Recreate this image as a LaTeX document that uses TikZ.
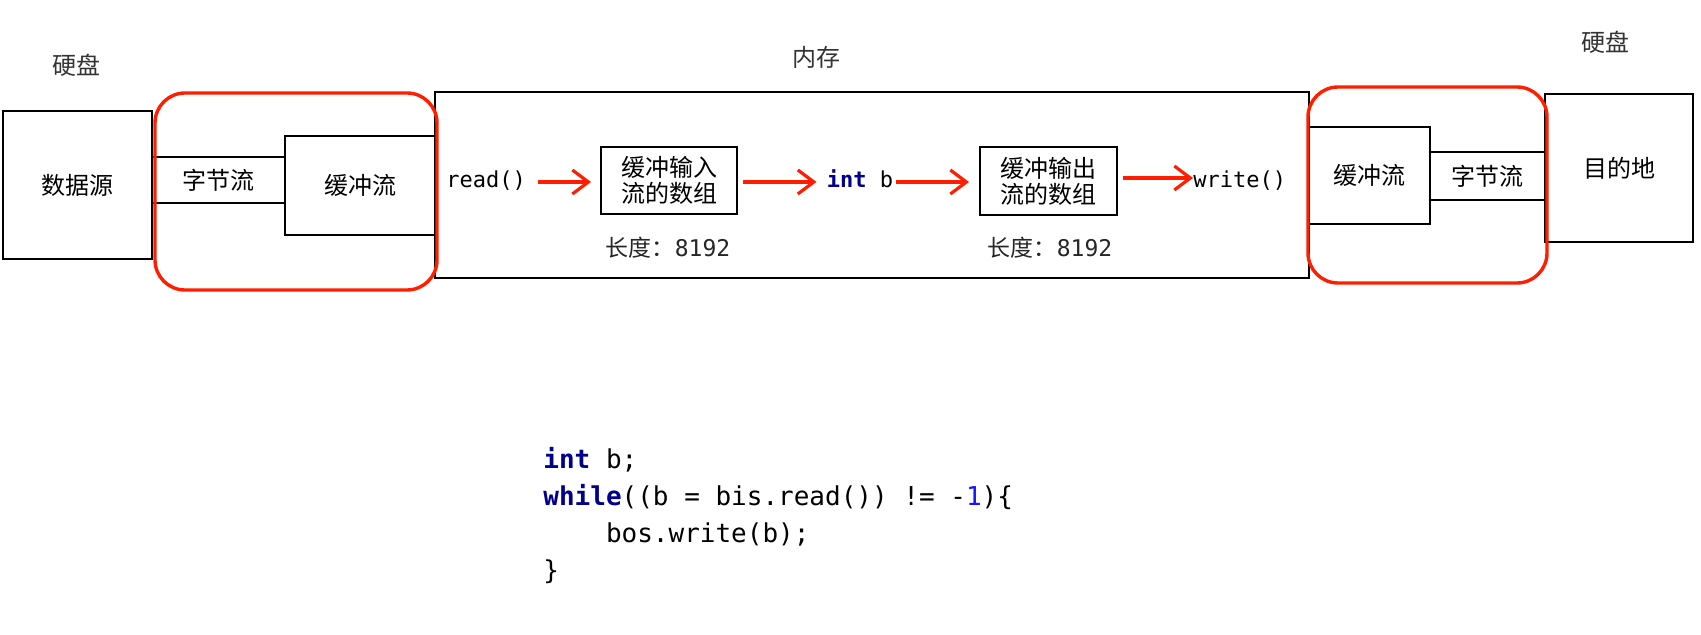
\documentclass[tikz,border=0pt]{standalone}
\usepackage{fontspec}
\setmonofont{DejaVu Sans Mono}
\newfontfamily\cjk{Noto Sans CJK SC}
\usetikzlibrary{arrows.meta}
\definecolor{flowred}{RGB}{255,30,0}
\definecolor{kwblue}{RGB}{0,0,140}
\definecolor{numblue}{RGB}{20,20,255}
\tikzset{
  box/.style={draw, line width=1pt, inner sep=0pt, font=\cjk\fontsize{12}{14}\selectfont},
  grp/.style={draw=flowred, line width=1.7pt, rounded corners=15pt},
  flow/.style={draw=flowred, line width=1.6pt,
    -{Straight Barb[length=8pt,width=12pt,line width=1.6pt]}},
  lbl/.style={inner sep=0pt, text=black!80, font=\cjk\fontsize{12}{14}\selectfont},
  fn/.style={inner sep=0pt, text height=8pt, text depth=2.5pt,
    font=\ttfamily\fontsize{11}{13}\selectfont},
  len/.style={inner sep=0pt, text=black!85, font=\cjk\fontsize{11.5}{13}\selectfont},
  codeln/.style={inner sep=0pt, anchor=base west, font=\ttfamily\fontsize{13}{15}\selectfont}
}
\newcommand{\kw}[1]{\textcolor{kwblue}{\bfseries #1}}

\begin{document}
\begin{tikzpicture}[x=0.5pt, y=-0.5pt]
  \useasboundingbox (0,0) rectangle (1701,635);
  % place labels
  \node[lbl] (hdL) at (76,65) {硬盘};
  \node[lbl] (ram) at (816,57) {内存};
  \node[lbl] (hdR) at (1605,42) {硬盘};
  % memory frame
  \node[box, minimum width=437pt, minimum height=93pt] (mem) at (872,185) {};
  % read side
  \node[box, minimum width=74.5pt, minimum height=74pt] (src) at (77.5,185) {数据源};
  \node[box, minimum width=66.5pt, minimum height=23pt] (byteL) at (218.5,180) {字节流};
  \node[box, minimum width=75pt, minimum height=49.5pt] (bufL) at (360,185.5) {缓冲流};
  % write side
  \node[box, minimum width=60.5pt, minimum height=48.5pt] (bufR) at (1369.5,175.5) {缓冲流};
  \node[box, minimum width=57.5pt, minimum height=24pt] (byteR) at (1487.5,176) {字节流};
  \node[box, minimum width=74pt, minimum height=74pt] (dst) at (1619,168) {目的地};
  % inside memory
  \node[fn, anchor=west] (rd) at (446,182) {read()};
  \node[box, minimum width=68pt, minimum height=33.5pt, align=center] (inarr) at (669,180.5)
    {缓冲输入\\[-1pt]流的数组};
  \node[fn] (var) at (860,182) {\kw{int} b};
  \node[box, minimum width=68.5pt, minimum height=34pt, align=center] (outarr) at (1048.5,181)
    {缓冲输出\\[-1pt]流的数组};
  \node[fn, anchor=west] (wr) at (1193,182) {write()};
  \node[len] (lenIn) at (668,248) {长度：\ttfamily 8192};
  \node[len] (lenOut) at (1050,248) {长度：\ttfamily 8192};
  % data flow
  \draw[flow] ([xshift=6pt]rd.east) -- ([xshift=-4.5pt]rd.east -| inarr.west);
  \draw[flow] ([xshift=2.5pt]var.west -| inarr.east) -- ([xshift=-5pt]var.west);
  \draw[flow] ([xshift=1pt]var.east) -- ([xshift=-5pt]var.east -| outarr.west);
  \draw[flow] ([xshift=2.5pt,yshift=2pt]wr.west -| outarr.east) -- ([yshift=2pt]wr.west);
  % buffered stream groups
  \draw[grp] (155,93) rectangle (437,290);
  \draw[grp] (1308,87) rectangle (1547,283);
  % code
  \node[codeln] (c1) at (543,469) {\kw{int} b;};
  \node[codeln] (c2) at (543,506) {\kw{while}((b = bis.read()) != -\textcolor{numblue}{1})\{};
  \node[codeln] (c3) at (543,542) {\phantom{0000}bos.write(b);};
  \node[codeln] (c4) at (543,579) {\}};
\end{tikzpicture}
\end{document}
